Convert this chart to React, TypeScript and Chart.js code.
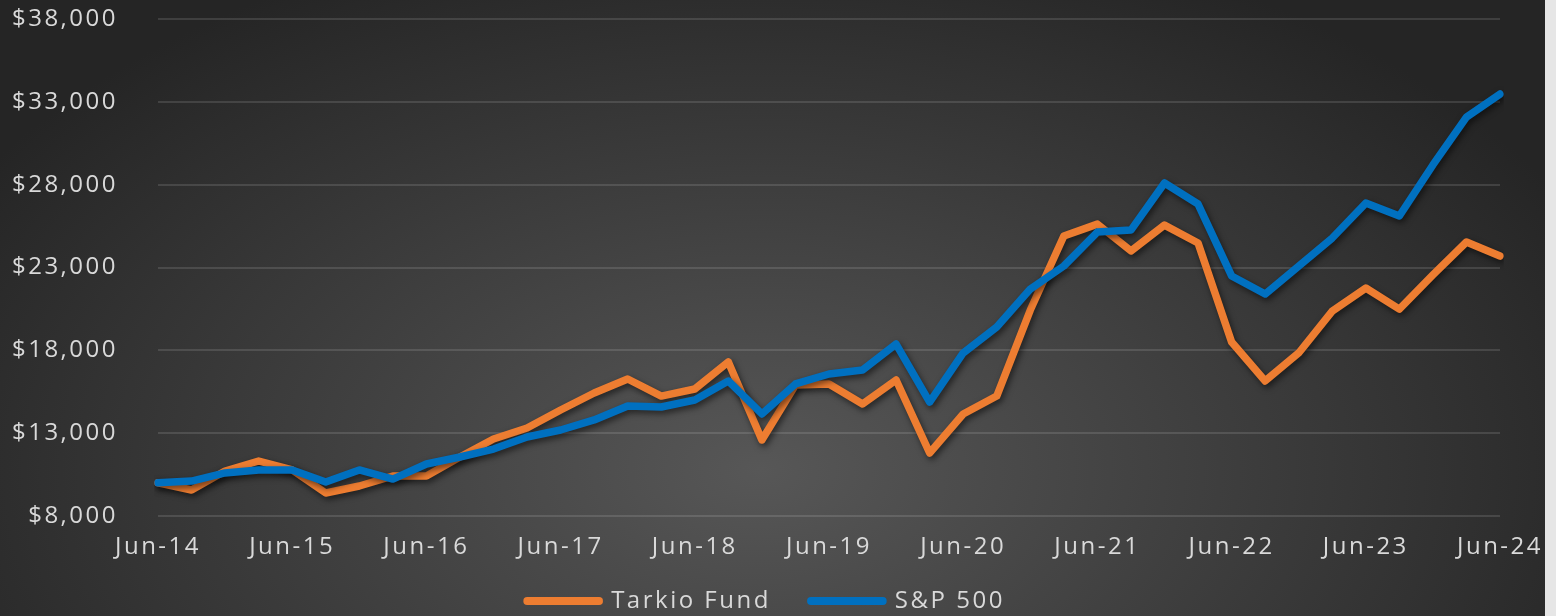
import React, { useEffect, useRef } from "react";
import { Chart, registerables } from "chart.js";
Chart.register(...registerables);

const quarters = [
  "Jun-14","Sep-14","Dec-14","Mar-15","Jun-15","Sep-15","Dec-15","Mar-16",
  "Jun-16","Sep-16","Dec-16","Mar-17","Jun-17","Sep-17","Dec-17","Mar-18",
  "Jun-18","Sep-18","Dec-18","Mar-19","Jun-19","Sep-19","Dec-19","Mar-20",
  "Jun-20","Sep-20","Dec-20","Mar-21","Jun-21","Sep-21","Dec-21","Mar-22",
  "Jun-22","Sep-22","Dec-22","Mar-23","Jun-23","Sep-23","Dec-23","Mar-24",
  "Jun-24",
];

const tarkioFund = [
  10000, 9570, 10716, 11320, 10777, 9390, 9810, 10414,
  10414, 11561, 12650, 13310, 14400, 15425, 16270, 15240,
  15665, 17300, 12590, 15900, 15970, 14760, 16210, 11800,
  14160, 15240, 20430, 24900, 25620, 24000, 25560, 24480,
  18500, 16150, 17840, 20370, 21760, 20490, 22550, 24540,
  23690,
];

const sp500 = [
  10000, 10110, 10600, 10780, 10780, 10050, 10780, 10230,
  11140, 11560, 12040, 12770, 13190, 13800, 14640, 14580,
  15000, 16150, 14160, 15970, 16570, 16810, 18380, 14880,
  17840, 19410, 21700, 23090, 25140, 25260, 28100, 26830,
  22490, 21400, 23090, 24780, 26890, 26110, 29190, 32080,
  33470,
];

const seriesNames = ["Tarkio Fund", "S&P 500"];
const yMin = 8000;
const yMax = 38000;
const yStep = 5000;

const FONT = "'Open Sans', sans-serif";
const TEXT_COLOR = "#d9d9d9";
const SPACING = "2.5px";

const bgPlugin = {
  id: "bgPlugin",
  afterInit(chart: any) {
    const lg = chart.legend;
    if (lg && !lg.__patched) {
      const orig = lg.fit;
      lg.fit = function (this: any) {
        orig.call(this);
        this.height = 50;
      };
      lg.__patched = true;
    }
  },
  beforeUpdate(chart: any) {
    chart.ctx.letterSpacing = SPACING;
  },
  afterLayout(chart: any) {
    const lg = chart.legend;
    if (lg) {
      lg.top -= 17;
      lg.left += 16;
      lg.right += 16;
    }
  },
  beforeDraw(chart: any) {
    const { ctx, width, height } = chart;
    ctx.save();
    const cx = 760, cy = 470, rx = 920, ry = 560;
    ctx.translate(cx, cy);
    ctx.scale(1, ry / rx);
    const g = ctx.createRadialGradient(0, 0, 0, 0, 0, rx);
    g.addColorStop(0, "#575757");
    g.addColorStop(1, "#252525");
    ctx.fillStyle = g;
    ctx.fillRect(-cx, -cy * rx / ry, width, height * rx / ry);
    ctx.restore();
    ctx.letterSpacing = SPACING;
  },
  beforeDatasetDraw(chart: any) {
    const ctx = chart.ctx;
    ctx.save();
    ctx.shadowColor = "rgba(0,0,0,0.55)";
    ctx.shadowBlur = 6;
    ctx.shadowOffsetX = 2;
    ctx.shadowOffsetY = 3;
  },
  afterDatasetDraw(chart: any) {
    chart.ctx.restore();
  },
};

export default function App() {
  const ref = useRef<HTMLCanvasElement>(null);
  useEffect(() => {
    if (!ref.current) return;
    const chart = new Chart(ref.current, {
      type: "line",
      data: {
        labels: quarters,
        datasets: [
          {
            label: seriesNames[0],
            data: tarkioFund,
            borderColor: "#ED7D31",
            backgroundColor: "#ED7D31",
            borderWidth: 7.5,
            pointRadius: 0,
            tension: 0,
            borderCapStyle: "round",
            borderJoinStyle: "round",
            order: 1,
          },
          {
            label: seriesNames[1],
            data: sp500,
            borderColor: "#0070C0",
            backgroundColor: "#0070C0",
            borderWidth: 7.5,
            pointRadius: 0,
            tension: 0,
            borderCapStyle: "round",
            borderJoinStyle: "round",
            order: 0,
          },
        ],
      },
      options: {
        animation: false,
        responsive: false,
        devicePixelRatio: 1,
        layout: { padding: { top: 19, right: 45, left: 0, bottom: 0 } },
        plugins: {
          tooltip: { enabled: false },
          legend: {
            position: "bottom",
            labels: {
              color: TEXT_COLOR,
              font: { family: FONT, size: 24 },
              boxWidth: 72,
              boxHeight: 0.5,
              padding: 40,
              sort: (a: any, b: any) => a.datasetIndex - b.datasetIndex,
            },
          },
        },
        scales: {
          x: {
            offset: false,
            afterFit: (s: any) => {
              s.height = 50;
              s.paddingLeft = 0;
              s.paddingRight = 0;
            },
            grid: { display: false, drawTicks: false },
            border: { display: false },
            ticks: {
              autoSkip: false,
              maxRotation: 0,
              color: TEXT_COLOR,
              font: { family: FONT, size: 24 },
              padding: 17,
              callback: (_v: any, i: number) => (i % 4 === 0 ? quarters[i] : ""),
            },
          },
          y: {
            min: yMin,
            max: yMax,
            afterFit: (s: any) => {
              s.width = 158;
              s.paddingTop = 0;
              s.paddingBottom = 0;
            },
            grid: { color: "rgba(255,255,255,0.12)", lineWidth: 2, drawTicks: false },
            border: { display: false },
            ticks: {
              stepSize: yStep,
              color: TEXT_COLOR,
              font: { family: FONT, size: 24 },
              padding: 40,
              callback: (v: any) => "$" + Number(v).toLocaleString("en-US"),
            },
          },
        },
      },
      plugins: [bgPlugin],
    });
    return () => chart.destroy();
  }, []);
  return (
    <div style={{ position: "fixed", left: 0, top: 0, width: 1556, height: 616, background: "#e6e6e6" }}>
      <canvas ref={ref} width={1545} height={616} style={{ display: "block" }} />
    </div>
  );
}
